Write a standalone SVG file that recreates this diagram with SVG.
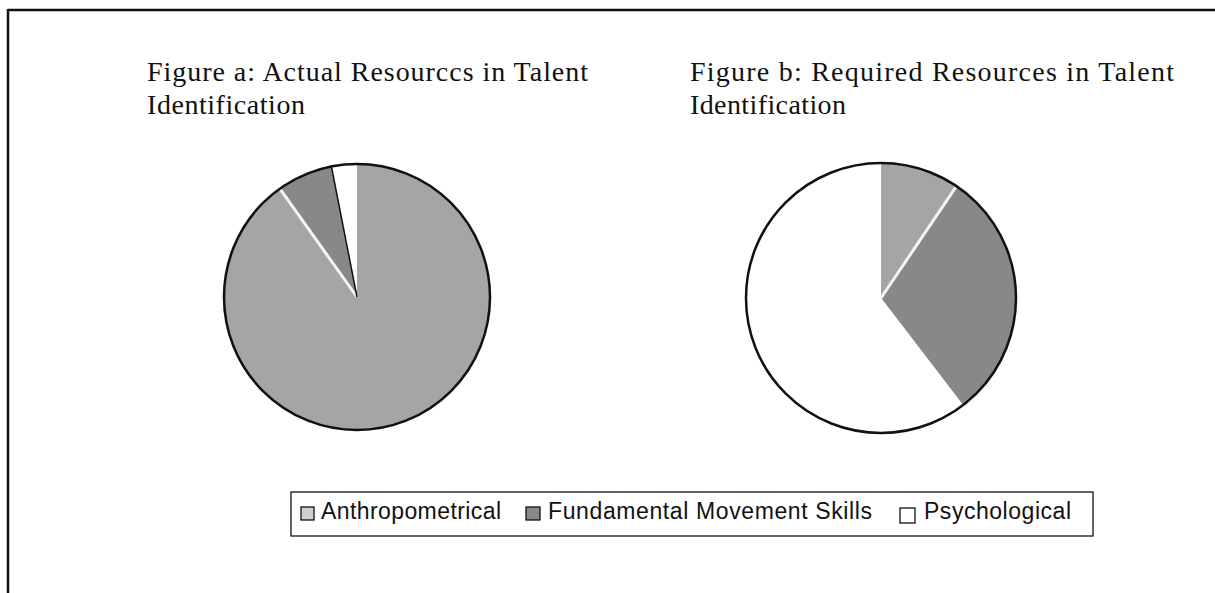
<svg xmlns="http://www.w3.org/2000/svg" width="1215" height="593" viewBox="0 0 1215 593">
<style>
.title{font-family:"Liberation Serif","Times New Roman",serif;font-size:28px;fill:#111}
.leg{font-family:"Liberation Sans",Arial,sans-serif;font-size:23px;fill:#111}
.anth{fill:#a5a5a5}
.fund{fill:#888888}
.psy{fill:#ffffff}
.rim{fill:none;stroke:#111;stroke-width:2.5}
.sepw{stroke:#f4f4f4;stroke-width:3}
.sepb{stroke:#111;stroke-width:1.5}
.mk{stroke:#111;stroke-width:1.3}
</style>
<rect width="1215" height="593" fill="#fff"/>
<g id="frame" stroke="#111" stroke-width="2.5" fill="none">
<line x1="8" y1="10" x2="1215" y2="10"/>
<line x1="8" y1="9" x2="8" y2="593"/>
</g>
<g id="title-a">
<text class="title" x="147" y="81" textLength="441" lengthAdjust="spacing">Figure a: Actual Resourccs in Talent</text>
<text class="title" x="147" y="114" textLength="158" lengthAdjust="spacing">Identification</text>
</g>
<g id="title-b">
<text class="title" x="690" y="81" textLength="484" lengthAdjust="spacing">Figure b: Required Resources in  Talent</text>
<text class="title" x="690" y="114" textLength="156" lengthAdjust="spacing">Identification</text>
</g>
<g id="pie-a">
<path class="anth" d="M357,297 L357,164 A133,133 0 1 1 279.8,188.7 Z"/>
<path class="fund" d="M357,297 L279.8,188.7 A133,133 0 0 1 331.4,166.5 Z"/>
<path class="psy" d="M357,297 L331.4,166.5 A133,133 0 0 1 357,164 Z"/>
<line class="sepw" x1="357" y1="297" x2="279.8" y2="188.7"/>
<line class="sepb" x1="357" y1="297" x2="331.4" y2="166.5"/>
<circle class="rim" cx="357" cy="297" r="133"/>
</g>
<g id="pie-b">
<path class="anth" d="M881,298 L881,163 A135,135 0 0 1 956.5,186.1 Z"/>
<path class="fund" d="M881,298 L956.5,186.1 A135,135 0 0 1 963.2,405.2 Z"/>
<path class="psy" d="M881,298 L963.2,405.2 A135,135 0 1 1 881,163 Z"/>
<line class="sepw" x1="881" y1="298" x2="956.5" y2="186.1"/>
<circle class="rim" cx="881" cy="298" r="135"/>
</g>
<g id="legend">
<rect x="291" y="492" width="802" height="44" fill="none" stroke="#111" stroke-width="1.3"/>
<rect class="mk" x="301" y="507" width="13" height="13" fill="#cfcfcf"/>
<text class="leg" x="321" y="519" textLength="180" lengthAdjust="spacing">Anthropometrical</text>
<rect class="mk" x="526" y="507" width="14" height="13" fill="#888888"/>
<text class="leg" x="548" y="519" textLength="324" lengthAdjust="spacing">Fundamental Movement Skills</text>
<rect class="mk" x="900" y="508" width="15" height="15" fill="#fff"/>
<text class="leg" x="924" y="519" textLength="147" lengthAdjust="spacing">Psychological</text>
</g>
</svg>
